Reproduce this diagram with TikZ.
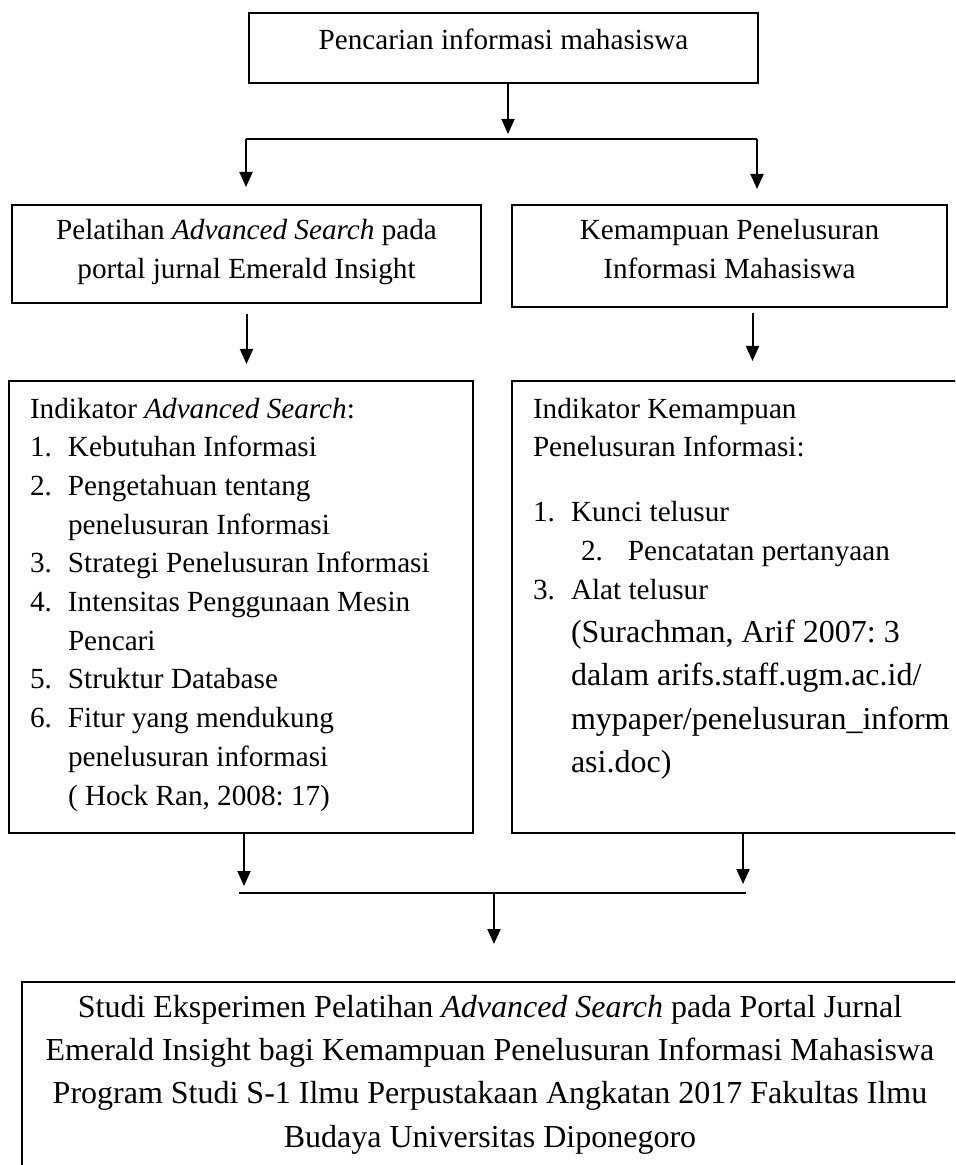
\documentclass[tikz,border=0pt]{standalone}
\usepackage{fontspec}
\setmainfont{Liberation Serif}
\usetikzlibrary{arrows.meta}
\frenchspacing

\newcommand{\boxtext}[5]{\begin{minipage}[c][#2][t]{#1}#3\rule{0pt}{#4}#5\end{minipage}}
\newcommand{\numline}[2]{\makebox[19pt][l]{#1}#2}
\newcommand{\bodytype}{\fontsize{14.6pt}{19.35pt}\selectfont}
\newcommand{\bigtype}{\fontsize{16pt}{21.67pt}\selectfont}

\begin{document}
\begin{tikzpicture}[x=0.5pt,y=-0.5pt,font=\bodytype,
	panel/.style={draw,line width=1pt,inner sep=0pt},
	arr/.style={line width=1pt,-{Triangle[length=7.5pt,width=6.5pt]}},
	link/.style={line width=0.7pt}]
	\useasboundingbox (0,0) rectangle (955,1165);
	\clip (0,0) rectangle (955,1165);

	% boxes
	\node[panel] (search) at (503.5,48) {\boxtext{254.5pt}{35pt}{\centering}{18.5pt}{Pencarian informasi mahasiswa}};
	\node[panel] (training) at (246.5,254) {\boxtext{234.5pt}{49pt}{\centering}{17.5pt}{Pelatihan \textit{Advanced Search} pada\\portal jurnal Emerald Insight}};
	\node[panel] (ability) at (729.5,256) {\boxtext{217.5pt}{51pt}{\centering}{17.5pt}{Kemampuan Penelusuran\\Informasi Mahasiswa}};
	\node[panel,inner xsep=10.5pt] (indtraining) at (241,607) {\boxtext{211pt}{226pt}{\raggedright}{18.5pt}{Indikator \textit{Advanced Search}:\\
		\numline{1.}{Kebutuhan Informasi}\\
		\numline{2.}{Pengetahuan tentang}\\
		\hspace*{19pt}penelusuran Informasi\\
		\numline{3.}{Strategi Penelusuran Informasi}\\
		\numline{4.}{Intensitas Penggunaan Mesin}\\
		\hspace*{19pt}Pencari\\
		\numline{5.}{Struktur Database}\\
		\numline{6.}{Fitur yang mendukung}\\
		\hspace*{19pt}penelusuran informasi\\
		\hspace*{19pt}( Hock Ran, 2008: 17)}};
	\node[panel,inner xsep=10.5pt] (indability) at (736,607) {\boxtext{203pt}{226pt}{\raggedright\hyphenpenalty=10000}{18.5pt}{Indikator Kemampuan\\
		Penelusuran Informasi:\\[13.25pt]
		\numline{1.}{Kunci telusur}\\
		\hspace*{24pt}\makebox[23.5pt][l]{2.}Pencatatan pertanyaan\\
		\numline{3.}{Alat telusur}\par
		{\bigtype\hspace*{19pt}(Surachman, Arif 2007: 3\\
		\hspace*{19pt}dalam arifs.staff.ugm.ac.id/\\
		\hspace*{19pt}mypaper/penelusuran\_inform\\
		\hspace*{19pt}asi.doc)\par}}};
	\node[panel] (result) at (490,1091) {\boxtext{468pt}{109pt}{\centering\bigtype}{17.5pt}{Studi Eksperimen Pelatihan \textit{Advanced Search} pada Portal Jurnal\\
		Emerald Insight bagi Kemampuan Penelusuran Informasi Mahasiswa\\
		Program Studi S-1 Ilmu Perpustakaan Angkatan 2017 Fakultas Ilmu\\
		Budaya Universitas Diponegoro}};

	% connectors
	\coordinate (splitL) at (246,139);
	\coordinate (splitR) at (757,139);
	\coordinate (downB) at ([xshift=11.5pt,yshift=-2.5pt]ability.south);
	\coordinate (mergeL) at (239,893);
	\coordinate (mergeR) at (746,893);
	\coordinate (mergeC) at (494,893);
	\draw[arr] ([xshift=2.25pt]search.south) -- ++(0,50);
	\draw[link] (splitL) -- (splitR);
	\draw[arr] (splitL) -- ([yshift=8.5pt]training.north -| splitL);
	\draw[arr] (splitR) -- ([yshift=7.5pt]ability.north -| splitR);
	\draw[arr] ([yshift=-5pt]training.south) -- ([yshift=8pt]indtraining.north -| training.south);
	\draw[arr] (downB) -- ([yshift=9.5pt]indability.north -| downB);
	\draw[arr] ([xshift=1.5pt]indtraining.south) -- ++(0,52);
	\draw[arr] ([xshift=3.5pt]indability.south) -- ++(0,50);
	\draw[link] (mergeL) -- (mergeR);
	\draw[arr] (mergeC) -- ([yshift=18.5pt]result.north -| mergeC);
\end{tikzpicture}
\end{document}
